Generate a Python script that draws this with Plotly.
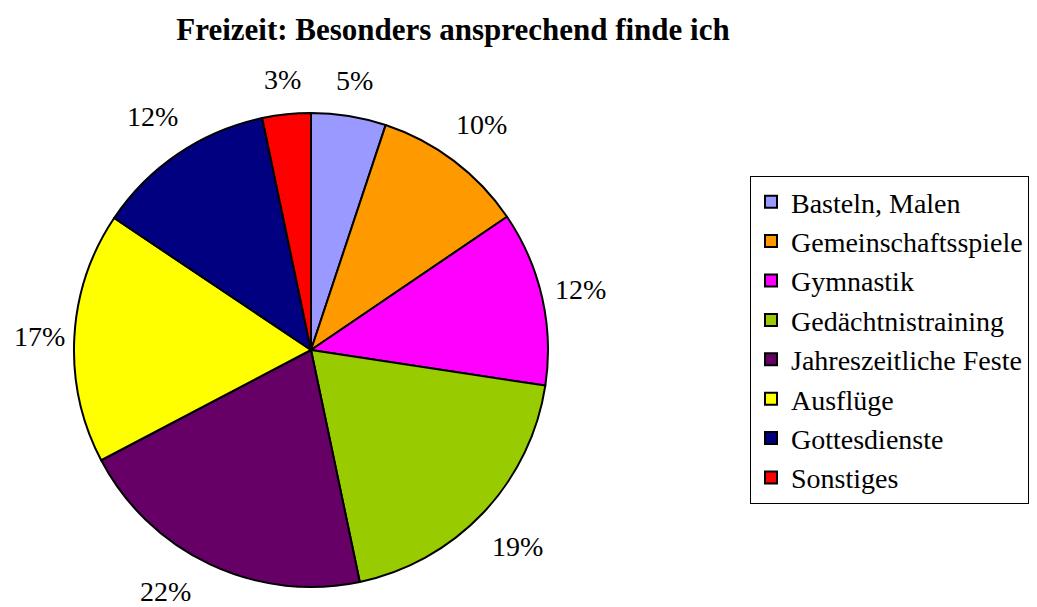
import math
import plotly.graph_objects as go

categories = ["Basteln, Malen", "Gemeinschaftsspiele", "Gymnastik", "Gedächtnistraining",
              "Jahreszeitliche Feste", "Ausflüge", "Gottesdienste", "Sonstiges"]
values = [5.1, 10.4, 11.9, 19.3, 20.6, 17.1, 12.3, 3.3]
# percentage labels as printed on the chart
label_pct = [5, 10, 12, 19, 22, 17, 12, 3]
colors = ["#9999FF", "#FF9900", "#FF00FF", "#99CC00", "#660066", "#FFFF00", "#000080", "#FF0000"]
title_text = "Freizeit: Besonders ansprechend finde ich"

W, H = 1037, 607
OFF = 8  # page body margin of the html page
cx, cy, R = 311 - OFF, 350 - OFF, 237
FONT = "Liberation Serif"
LABEL_HALF_H = 17


def px(x):
    return x / W


def py(y):
    return 1 - y / H


fig = go.Figure(go.Pie(
    labels=categories, values=values, sort=False, direction="clockwise", rotation=0,
    marker=dict(colors=colors, line=dict(color="black", width=2)),
    textinfo="none",
    domain=dict(x=[px(cx - R), px(cx + R)], y=[py(cy + R), py(cy - R)]),
    hoverinfo="label+percent",
))

# percentage labels placed outside each slice, positions derived from the values;
# a label that would leave the visible canvas slides along its circle to stay inside
total = sum(values)
cum = 0
annotations = []
ly_max = H - OFF - LABEL_HALF_H
for v, lab in zip(values, label_pct):
    mid = (cum + v / 2) / total * 2 * math.pi
    cum += v
    d = R + 33 + 14 * abs(math.sin(2 * mid))
    lx = cx + d * math.sin(mid)
    ly = cy - d * math.cos(mid)
    if ly > ly_max:
        a = math.acos((ly_max - cy) / d)
        mid = math.pi + a if math.sin(mid) < 0 else math.pi - a
        lx = cx + d * math.sin(mid)
        ly = cy - d * math.cos(mid)
    annotations.append(dict(
        x=px(lx), y=py(ly + 1), xref="paper", yref="paper", xanchor="center", yanchor="middle",
        text=f"{lab}%", showarrow=False,
        font=dict(family=FONT, size=28, color="black"),
    ))

fig.update_layout(
    width=W, height=H, margin=dict(l=0, r=0, t=0, b=0),
    paper_bgcolor="white", plot_bgcolor="white",
    title=dict(text="<b>" + title_text + "</b>", x=px(453 - OFF), xanchor="center",
               y=py(29 - OFF), yanchor="middle",
               font=dict(family=FONT, size=31, color="black")),
    legend=dict(x=px(750 - OFF), y=py(176 - OFF), xanchor="left", yanchor="top",
                bordercolor="black", borderwidth=1, bgcolor="white",
                font=dict(family=FONT, size=28, color="black")),
    annotations=annotations,
)
fig.write_html("out.html")
